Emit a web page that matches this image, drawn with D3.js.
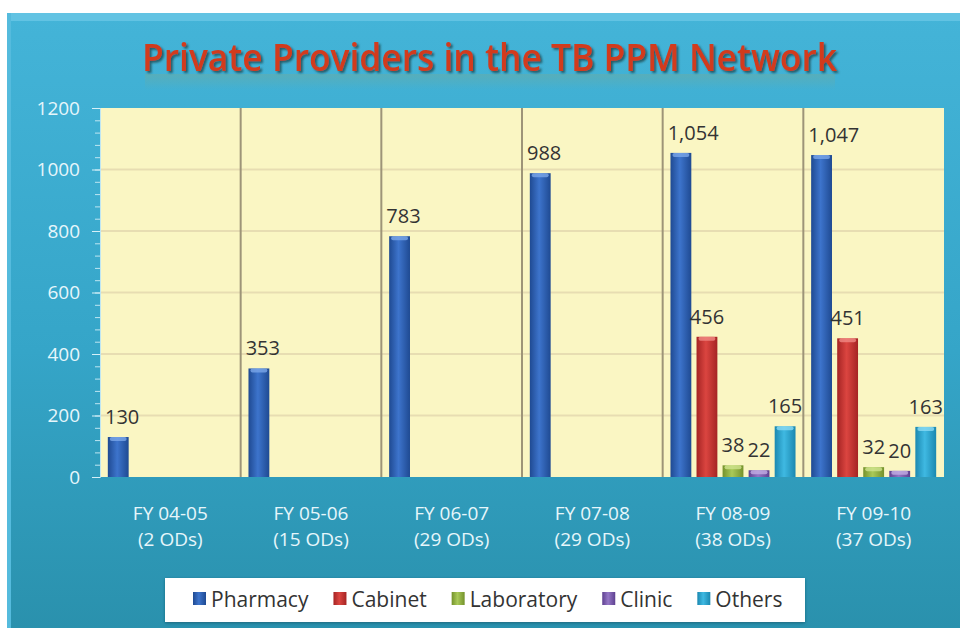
<!DOCTYPE html>
<html>
<head>
<meta charset="utf-8">
<style>
  body { margin: 0; background: #ffffff; }
  svg { display: block; font-family: "Open Sans", sans-serif; }
</style>
</head>
<body>
<div id="container"></div>
<script src="https://cdn.jsdelivr.net/npm/d3@7"></script>
<script>

// chart data
const categories = ["FY 04-05", "FY 05-06", "FY 06-07", "FY 07-08", "FY 08-09", "FY 09-10"];
const subLabels = ["(2 ODs)", "(15 ODs)", "(29 ODs)", "(29 ODs)", "(38 ODs)", "(37 ODs)"];
const seriesNames = ["Pharmacy", "Cabinet", "Laboratory", "Clinic", "Others"];
const pharmacy = [130, 353, 783, 988, 1054, 1047];
const cabinet = [0, 0, 0, 0, 456, 451];
const laboratory = [0, 0, 0, 0, 38, 32];
const clinic = [0, 0, 0, 0, 22, 20];
const others = [0, 0, 0, 0, 165, 163];
const yTicks = [0, 200, 400, 600, 800, 1000, 1200];

const seriesValues = [pharmacy, cabinet, laboratory, clinic, others];
// [edge, centre, cap] colours per series
const colors = [
    ["#1f4a92", "#3d74cc", "#7aa6e8"],
    ["#a52424", "#db4540", "#f08a84"],
    ["#74922c", "#a9c958", "#d0e48e"],
    ["#5e4190", "#9577c6", "#c2aee4"],
    ["#1b88b0", "#3fb9e2", "#8adaf2"]
];

const W = 960, H = 628;
const svg = d3.select("#container").append("svg")
    .attr("width", W)
    .attr("height", H);

const defs = svg.append("defs");

const panelGrad = defs.append("linearGradient")
    .attr("id", "panel").attr("x1", 0).attr("y1", 0).attr("x2", 0).attr("y2", 1);
panelGrad.append("stop").attr("offset", "0%").attr("stop-color", "#44b4d8");
panelGrad.append("stop").attr("offset", "55%").attr("stop-color", "#35a5c8");
panelGrad.append("stop").attr("offset", "100%").attr("stop-color", "#2a91ad");

colors.forEach((c, i) => {
    const g = defs.append("linearGradient")
        .attr("id", "bar" + i).attr("x1", 0).attr("y1", 0).attr("x2", 1).attr("y2", 0);
    g.append("stop").attr("offset", "0%").attr("stop-color", c[0]);
    g.append("stop").attr("offset", "45%").attr("stop-color", c[1]);
    g.append("stop").attr("offset", "100%").attr("stop-color", c[0]);
});

const shadow = defs.append("filter").attr("id", "tshadow")
    .attr("x", "-5%").attr("y", "-20%").attr("width", "110%").attr("height", "160%");
shadow.append("feDropShadow")
    .attr("dx", 2).attr("dy", 2).attr("stdDeviation", 1.2)
    .attr("flood-color", "#1f4d52").attr("flood-opacity", 0.85);

const legShadow = defs.append("filter").attr("id", "lshadow");
legShadow.append("feDropShadow")
    .attr("dx", 0).attr("dy", 1).attr("stdDeviation", 1.5)
    .attr("flood-color", "#0d4a5c").attr("flood-opacity", 0.6);

// soft glow under the title (stands in for the reflection)
const glowGrad = defs.append("linearGradient")
    .attr("id", "glow").attr("x1", 0).attr("y1", 0).attr("x2", 0).attr("y2", 1);
glowGrad.append("stop").attr("offset", "0%").attr("stop-color", "#7fa88a").attr("stop-opacity", 0.35);
glowGrad.append("stop").attr("offset", "100%").attr("stop-color", "#7fa88a").attr("stop-opacity", 0);

// background panel
svg.append("rect")
    .attr("x", 7).attr("y", 13).attr("width", W - 7).attr("height", H - 13)
    .attr("fill", "url(#panel)");
svg.append("rect")
    .attr("x", 7).attr("y", 13).attr("width", W - 7).attr("height", 8)
    .attr("fill", "#62c3e3");
svg.append("rect")
    .attr("x", 7).attr("y", 13).attr("width", 4).attr("height", H - 13)
    .attr("fill", "#55bbdd");

// title
const title = "Private Providers in the TB PPM Network";
svg.append("rect")
    .attr("x", 145).attr("y", 74).attr("width", 690).attr("height", 16)
    .attr("fill", "url(#glow)");
svg.append("text")
    .attr("x", 142).attr("y", 71)
    .attr("textLength", 695).attr("lengthAdjust", "spacingAndGlyphs")
    .attr("font-size", 37)
    .attr("font-weight", 600)
    .attr("fill", "#d23a1e")
    .attr("filter", "url(#tshadow)")
    .text(title);

// scales
const x0 = d3.scaleBand().domain(categories).range([100, 944]).padding(0);
const x1 = d3.scaleBand().domain(seriesNames).range([0, x0.bandwidth()])
    .paddingInner(0.2).paddingOuter(0.3);
const y = d3.scaleLinear().domain([0, 1200]).range([477, 108]);

// plot area
svg.append("rect")
    .attr("x", 100).attr("y", y(1200))
    .attr("width", 844).attr("height", y(0) - y(1200))
    .attr("fill", "#faf6c3");

svg.append("g").selectAll("line")
    .data(yTicks.filter(d => d > 0 && d < 1200))
    .join("line")
    .attr("x1", 100).attr("x2", 944)
    .attr("y1", d => y(d)).attr("y2", d => y(d))
    .attr("stroke", "#e7ddb2").attr("stroke-width", 2);

svg.append("g").selectAll("line")
    .data(categories.slice(1))
    .join("line")
    .attr("x1", d => x0(d)).attr("x2", d => x0(d))
    .attr("y1", y(1200)).attr("y2", y(0))
    .attr("stroke", "#9d9478").attr("stroke-width", 2);

// y axis: minor then major ticks
const minorAxis = svg.append("g")
    .attr("transform", "translate(100,0)")
    .call(d3.axisLeft(y).tickValues(d3.range(0, 1201, 40)).tickSize(5).tickFormat(""));
minorAxis.select(".domain").attr("stroke", "#bfe6f2");
minorAxis.selectAll(".tick line").attr("stroke", "#bfe6f2");

const yAxis = svg.append("g")
    .attr("transform", "translate(100,0)")
    .call(d3.axisLeft(y).tickValues(yTicks).tickSize(8).tickPadding(12).tickFormat(d3.format("d")));
yAxis.select(".domain").remove();
yAxis.selectAll(".tick line").attr("stroke", "#d6f0f8");
yAxis.selectAll(".tick text")
    .attr("fill", "#e6f6fb")
    .attr("font-size", 19)
    .attr("font-family", "Open Sans, sans-serif");

// bars
const groups = svg.append("g").selectAll("g")
    .data(categories)
    .join("g")
    .attr("transform", d => `translate(${x0(d)},0)`);

const bars = groups.selectAll("g")
    .data((c, ci) => seriesNames.map((s, si) => ({ s, si, v: seriesValues[si][ci] })).filter(d => d.v > 0))
    .join("g");

bars.append("rect")
    .attr("x", d => x1(d.s))
    .attr("y", d => y(d.v))
    .attr("width", x1.bandwidth())
    .attr("height", d => y(0) - y(d.v))
    .attr("fill", d => `url(#bar${d.si})`);

bars.append("rect")
    .attr("x", d => x1(d.s) + 2)
    .attr("y", d => y(d.v))
    .attr("width", x1.bandwidth() - 4)
    .attr("height", 4)
    .attr("rx", 2)
    .attr("fill", d => colors[d.si][2])
    .attr("opacity", 0.8);

// value labels, centred on the bar but kept clear of the band's left edge
bars.append("text")
    .attr("y", d => y(d.v) - 13)
    .attr("text-anchor", "middle")
    .attr("font-size", 20)
    .attr("fill", "#333333")
    .text(d => d3.format(",")(d.v))
    .attr("x", function(d) {
        const w = this.getComputedTextLength();
        return Math.max(x1(d.s) + x1.bandwidth() / 2, 5 + w / 2);
    });

// x labels
const xl = svg.append("g").selectAll("g")
    .data(categories)
    .join("g")
    .attr("transform", d => `translate(${x0(d) + x0.bandwidth() / 2},0)`);
xl.append("text")
    .attr("y", 520)
    .attr("text-anchor", "middle")
    .attr("font-size", 19)
    .attr("fill", "#e6f6fb")
    .text(d => d);
xl.append("text")
    .attr("y", 546)
    .attr("text-anchor", "middle")
    .attr("font-size", 19)
    .attr("fill", "#e6f6fb")
    .text((d, i) => subLabels[i]);

// legend
svg.append("rect")
    .attr("x", 165).attr("y", 578).attr("width", 640).attr("height", 44)
    .attr("fill", "#ffffff")
    .attr("filter", "url(#lshadow)");

let lx = 193;
seriesNames.forEach((name, i) => {
    const item = svg.append("g");
    item.append("rect")
        .attr("x", lx).attr("y", 592).attr("width", 13).attr("height", 13)
        .attr("fill", `url(#bar${i})`);
    const t = item.append("text")
        .attr("x", lx + 18).attr("y", 607)
        .attr("font-size", 21)
        .attr("fill", "#333333")
        .text(name);
    lx += 18 + t.node().getComputedTextLength() + 25;
});

</script>
</body>
</html>
